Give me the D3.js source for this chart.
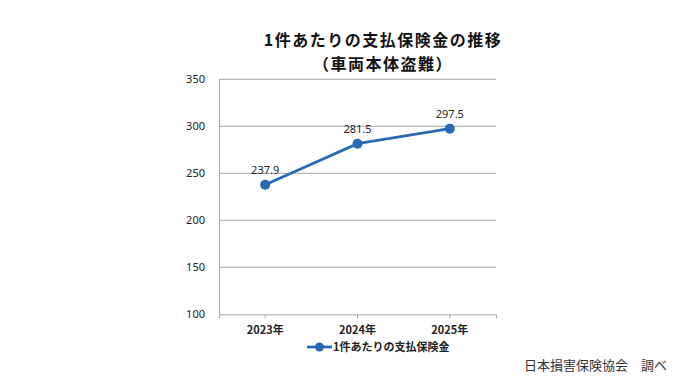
<!DOCTYPE html>
<html><head><meta charset="utf-8">
<script src="https://cdn.jsdelivr.net/npm/d3@7"></script>
<style>body{margin:0;background:#fff}svg{display:block}text{font-family:"Noto Sans CJK JP","Noto Sans",sans-serif}</style>
</head><body><svg id="c" width="680" height="382"></svg>
<script>
const categories = ["2023年", "2024年", "2025年"];
const values = [237.9, 281.5, 297.5];
const yTicks = [100, 150, 200, 250, 300, 350];
const seriesName = "1件あたりの支払保険金";
const titleLines = ["1件あたりの支払保険金の推移", "（車両本体盗難）"];
const source = "日本損害保険協会　調べ";

const svg = d3.select("#c");
const plotL = 219, plotR = 496, plotT = 79.3, plotB = 314.3;
const x = d3.scaleBand().domain(categories).range([plotL, plotR]);
const y = d3.scaleLinear().domain([100, 350]).range([plotB, plotT]);
const color = "#2a6ab4";

// title
svg.selectAll("text.title").data(titleLines).join("text")
  .attr("x", 383).attr("y", (d, i) => 46 + i * 24)
  .attr("text-anchor", "middle").attr("font-size", 16).attr("font-weight", "bold")
  .attr("letter-spacing", 1.5)
  .attr("fill", "#111").text(d => d);

// gridlines
svg.append("g").selectAll("line").data(yTicks.filter(t => t > 100)).join("line")
  .attr("x1", plotL).attr("x2", plotR).attr("y1", d => y(d)).attr("y2", d => y(d))
  .attr("stroke", "#a6a6a6").attr("stroke-width", 1);

// y axis
const ya = svg.append("g").attr("transform", `translate(${plotL},0)`)
  .call(d3.axisLeft(y).tickValues(yTicks).tickSize(0).tickPadding(14));
ya.select(".domain").attr("stroke", "#a6a6a6");
ya.selectAll("text").attr("font-size", 11).attr("fill", "#222")
  .style("font-family", "'Noto Sans','Noto Sans CJK JP',sans-serif");

// x axis
const xa = svg.append("g").attr("transform", `translate(0,${plotB})`)
  .call(d3.axisBottom(x).tickSize(4).tickPadding(8).tickSizeOuter(4));
xa.select(".domain").attr("stroke", "#a6a6a6");
xa.selectAll("line").attr("stroke", "#a6a6a6");
xa.selectAll("text").attr("font-size", 11).attr("font-weight", "bold").attr("fill", "#222");

// line
const cx = d => x(d) + x.bandwidth() / 2;
svg.append("path").datum(values)
  .attr("d", d3.line().x((d, i) => cx(categories[i])).y(d => y(d)))
  .attr("fill", "none").attr("stroke", color).attr("stroke-width", 2.8);
svg.append("g").selectAll("circle").data(values).join("circle")
  .attr("cx", (d, i) => cx(categories[i])).attr("cy", d => y(d)).attr("r", 5)
  .attr("fill", color);
svg.append("g").selectAll("text").data(values).join("text")
  .attr("x", (d, i) => cx(categories[i])).attr("y", d => y(d) - 11)
  .attr("text-anchor", "middle").attr("font-size", 11).attr("fill", "#222")
  .style("font-family", "'Noto Sans','Noto Sans CJK JP',sans-serif")
  .text(d => d.toFixed(1));

// legend
const lg = svg.append("g");
lg.append("line").attr("x1", 307).attr("x2", 332).attr("y1", 347).attr("y2", 347)
  .attr("stroke", color).attr("stroke-width", 2.8);
lg.append("circle").attr("cx", 319.5).attr("cy", 347).attr("r", 4.5).attr("fill", color);
lg.append("text").attr("x", 333).attr("y", 351).attr("font-size", 11).attr("font-weight", "bold")
  .attr("fill", "#222").text(seriesName);

// source
svg.append("text").attr("x", 667).attr("y", 370).attr("text-anchor", "end")
  .attr("font-size", 13).attr("fill", "#333").text(source);
</script></body></html>
